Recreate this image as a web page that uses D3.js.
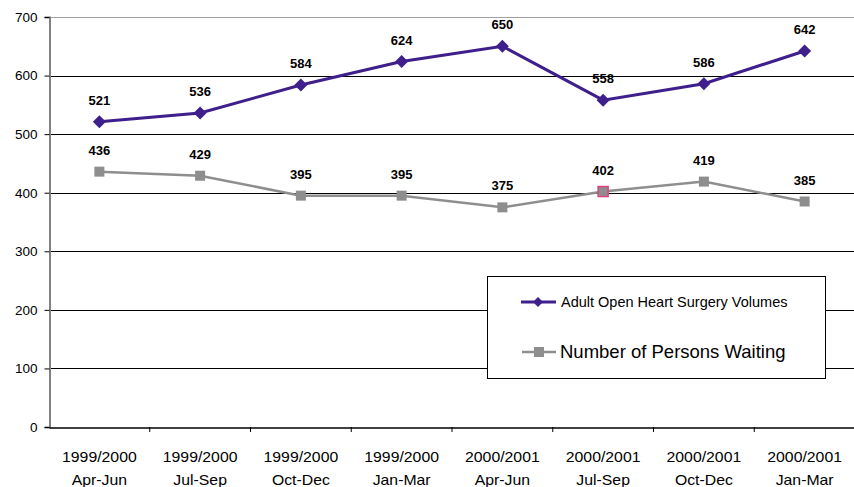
<!DOCTYPE html>
<html>
<head>
<meta charset="utf-8">
<script src="https://cdn.jsdelivr.net/npm/d3@7"></script>
<style>
  html, body { margin: 0; padding: 0; background: #fff; }
  svg { display: block; font-family: "Liberation Sans", Arial, sans-serif; }
</style>
</head>
<body>
<svg id="chart" width="854" height="487"></svg>
<script>
// Quarterly periods (two-line labels)
const yearLabels = ["1999/2000", "1999/2000", "1999/2000", "1999/2000", "2000/2001", "2000/2001", "2000/2001", "2000/2001"];
const quarterLabels = ["Apr-Jun", "Jul-Sep", "Oct-Dec", "Jan-Mar", "Apr-Jun", "Jul-Sep", "Oct-Dec", "Jan-Mar"];
const surgeryVolumes = [521, 536, 584, 624, 650, 558, 586, 642];
const personsWaiting = [436, 429, 395, 395, 375, 402, 419, 385];
const yTicks = [0, 100, 200, 300, 400, 500, 600, 700];
const seriesNames = ["Adult Open Heart Surgery Volumes", "Number of Persons Waiting"];

const svg = d3.select("#chart");
const margin = { left: 49, top: 17 };
const W = 854;

const x = d3.scaleBand()
  .domain(d3.range(yearLabels.length))
  .range([margin.left, margin.left + 8 * 100.75])
  .padding(0);
const y = d3.scaleLinear().domain([0, 700]).range([427, 17]);

const purple = "#3f1f8c";
const grey = "#8e8e8e";

// horizontal gridlines
svg.append("g").selectAll("line")
  .data(yTicks.filter(d => d > 0))
  .join("line")
  .attr("x1", margin.left).attr("x2", W)
  .attr("y1", d => Math.round(y(d)) + 0.5).attr("y2", d => Math.round(y(d)) + 0.5)
  .attr("stroke", d => d === 700 ? "#a0a0a0" : "#000")
  .attr("stroke-width", 1);

// y axis
const yAxis = svg.append("g")
  .attr("transform", `translate(${margin.left + 0.5},0)`)
  .call(d3.axisLeft(y).tickValues(yTicks).tickSize(5).tickPadding(7).tickFormat(d3.format("d")));
yAxis.select(".domain").attr("stroke", "#808080").attr("stroke-width", 2);
yAxis.selectAll(".tick line").attr("stroke", "#000");
yAxis.selectAll(".tick text").attr("font-size", 13.5).attr("fill", "#000")
  .attr("font-family", "Liberation Sans, Arial, sans-serif");

// x axis
const xAxis = svg.append("g")
  .attr("transform", `translate(0,${Math.round(y(0)) + 0.5})`)
  .call(d3.axisBottom(x).tickSize(0).tickFormat(""));
xAxis.select(".domain").attr("stroke", "#000").attr("stroke-width", 1.5);
// category boundary ticks
svg.append("g").selectAll("line")
  .data(d3.range(1, yearLabels.length))
  .join("line")
  .attr("x1", i => x(i)).attr("x2", i => x(i))
  .attr("y1", y(0)).attr("y2", y(0) + 5)
  .attr("stroke", "#000");

const cx = i => x(i) + x.bandwidth() / 2;

// two-line category labels, slightly widened
const catLabels = svg.append("g").selectAll("g")
  .data(d3.range(yearLabels.length))
  .join("g")
  .attr("transform", i => `translate(${cx(i)},0) scale(1.13,1)`);
catLabels.append("text").attr("y", 462).attr("text-anchor", "middle")
  .attr("font-size", 14).attr("fill", "#000").text(i => yearLabels[i]);
catLabels.append("text").attr("y", 485).attr("text-anchor", "middle")
  .attr("font-size", 14).attr("fill", "#000").text(i => quarterLabels[i]);

const line = d3.line().x((d, i) => cx(i)).y(d => y(d));

// Persons waiting series
svg.append("path").datum(personsWaiting)
  .attr("d", line).attr("fill", "none")
  .attr("stroke", grey).attr("stroke-width", 2.5);
svg.append("g").selectAll("rect")
  .data(personsWaiting)
  .join("rect")
  .attr("x", (d, i) => cx(i) - 5).attr("y", d => y(d) - 5)
  .attr("width", 10).attr("height", 10)
  .attr("fill", grey)
  .attr("stroke", (d, i) => i === 5 ? "#e0407f" : "none")
  .attr("stroke-width", 1.5);

// Surgery volumes series
svg.append("path").datum(surgeryVolumes)
  .attr("d", line).attr("fill", "none")
  .attr("stroke", purple).attr("stroke-width", 3);
const diamondPath = "M0,-6.5L6.5,0L0,6.5L-6.5,0Z";
svg.append("g").selectAll("path")
  .data(surgeryVolumes)
  .join("path")
  .attr("d", diamondPath)
  .attr("transform", (d, i) => `translate(${cx(i)},${y(d)})`)
  .attr("fill", purple);

// value labels
function valueLabels(data) {
  svg.append("g").selectAll("text")
    .data(data)
    .join("text")
    .attr("x", (d, i) => cx(i))
    .attr("y", d => y(d) - 17)
    .attr("text-anchor", "middle")
    .attr("font-size", 13)
    .attr("font-weight", "bold")
    .attr("fill", "#000")
    .text(d => d);
}
valueLabels(surgeryVolumes);
valueLabels(personsWaiting);

// legend
const lg = svg.append("g");
lg.append("rect")
  .attr("x", 487.5).attr("y", 276.5).attr("width", 338).attr("height", 102)
  .attr("fill", "#fff").attr("stroke", "#000").attr("stroke-width", 1);
lg.append("line").attr("x1", 521).attr("x2", 556).attr("y1", 302).attr("y2", 302)
  .attr("stroke", purple).attr("stroke-width", 3);
lg.append("path").attr("d", "M0,-5L5,0L0,5L-5,0Z").attr("transform", "translate(538,302)").attr("fill", purple);
lg.append("text").attr("x", 561).attr("y", 307).attr("font-size", 14.5).attr("fill", "#000").text(seriesNames[0]);
lg.append("line").attr("x1", 522).attr("x2", 556).attr("y1", 352).attr("y2", 352)
  .attr("stroke", grey).attr("stroke-width", 2.5);
lg.append("rect").attr("x", 534).attr("y", 347).attr("width", 10).attr("height", 10).attr("fill", grey);
lg.append("text").attr("x", 560).attr("y", 358).attr("font-size", 18.5).attr("fill", "#000").text(seriesNames[1]);
</script>
</body>
</html>
